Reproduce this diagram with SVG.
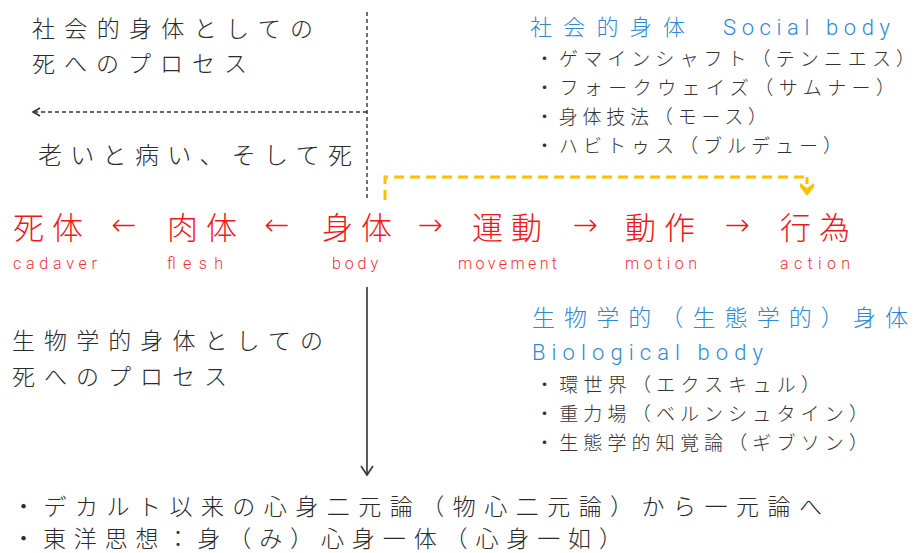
<svg xmlns="http://www.w3.org/2000/svg" width="922" height="553" viewBox="0 0 922 553">
<style>
.jp{font-family:"Noto Sans CJK JP","Noto Sans",sans-serif;fill:#2a2a2a;font-size:23px;font-weight:300}
.sm{font-family:"Noto Sans CJK JP","Noto Sans",sans-serif;fill:#333;font-size:19px;font-weight:300}
.blue{font-family:"Noto Sans CJK JP","Noto Sans",sans-serif;fill:#3088d0;font-size:23px;font-weight:300}
.en-blue{font-family:Roboto,"Liberation Sans",sans-serif;fill:#3088d0;font-size:22px;font-weight:300}
.red{font-family:"Noto Sans CJK JP","Noto Sans",sans-serif;fill:#f01818;font-size:31px;font-weight:300}
.arr{font-family:"DejaVu Sans","Noto Sans",sans-serif;fill:#f01818;font-size:30px;text-anchor:middle;font-weight:300}
.en-red{font-family:Roboto,"Liberation Sans",sans-serif;fill:#f03030;font-size:16px;font-weight:300}
.bot{font-family:"Noto Sans CJK JP","Noto Sans",sans-serif;fill:#2a2a2a;font-size:23px;font-weight:300}
.dash{fill:none;stroke:#333;stroke-width:1.4;stroke-dasharray:4 3}
.solid{fill:none;stroke:#333;stroke-width:1.6}
.yel{fill:none;stroke:#ffc000;stroke-width:3;stroke-dasharray:10 6}
</style>
<rect width="922" height="553" fill="#fff"/>
<g id="connectors">
  <path class="dash" d="M367 12 V199"/>
  <path class="dash" d="M367 112 H34"/>
  <path class="solid" d="M40 108 L33 112 L40 116"/>
  <path class="yel" d="M385 200 V177 H807"/>
  <path d="M807 177 V184" stroke="#ffc000" stroke-width="3" fill="none"/>
  <path d="M800 183 L807 188 L814 183 L814 187 L807 196 L800 187 Z" fill="#ffc000"/>
  <path class="solid" d="M367 287 V474"/>
  <path class="solid" d="M361 466 L367 475 L373 466"/>
</g>
<g id="social-death">
  <text class="jp" x="32" y="37" textLength="281" lengthAdjust="spacing">社会的身体としての</text>
  <text class="jp" x="32" y="72" textLength="215" lengthAdjust="spacing">死へのプロセス</text>
</g>
<g id="aging">
  <text class="jp" x="38" y="164" style="font-size:24px" textLength="314" lengthAdjust="spacing">老いと病い、そして死</text>
</g>
<g id="social-body">
  <text class="blue" x="530" y="35" style="font-size:22px" textLength="155" lengthAdjust="spacing">社会的身体</text>
  <text class="en-blue" x="723" y="35" textLength="167" lengthAdjust="spacing">Social body</text>
  <text class="sm" x="535" y="66" textLength="380" lengthAdjust="spacing">・ゲマインシャフト（テンニエス）</text>
  <text class="sm" x="535" y="95" textLength="360" lengthAdjust="spacing">・フォークウェイズ（サムナー）</text>
  <text class="sm" x="535" y="124" textLength="232" lengthAdjust="spacing">・身体技法（モース）</text>
  <text class="sm" x="535" y="153" textLength="307" lengthAdjust="spacing">・ハビトゥス（ブルデュー）</text>
</g>
<g id="chain">
  <text class="red" x="13" y="239" textLength="70" lengthAdjust="spacing">死体</text>
  <text class="arr" x="124" y="235">←</text>
  <text class="red" x="167" y="239" textLength="70" lengthAdjust="spacing">肉体</text>
  <text class="arr" x="277" y="235">←</text>
  <text class="red" x="322" y="239" textLength="70" lengthAdjust="spacing">身体</text>
  <text class="arr" x="430" y="235">→</text>
  <text class="red" x="472" y="239" textLength="70" lengthAdjust="spacing">運動</text>
  <text class="arr" x="585" y="235">→</text>
  <text class="red" x="625" y="239" textLength="70" lengthAdjust="spacing">動作</text>
  <text class="arr" x="737" y="235">→</text>
  <text class="red" x="780" y="239" textLength="70" lengthAdjust="spacing">行為</text>
  <text class="en-red" x="13" y="269" textLength="84" lengthAdjust="spacing">cadaver</text>
  <text class="en-red" x="167" y="269" textLength="56" lengthAdjust="spacing">flesh</text>
  <text class="en-red" x="332" y="269" textLength="46" lengthAdjust="spacing">body</text>
  <text class="en-red" x="458" y="269" textLength="99" lengthAdjust="spacing">movement</text>
  <text class="en-red" x="625" y="269" textLength="72" lengthAdjust="spacing">motion</text>
  <text class="en-red" x="780" y="269" textLength="70" lengthAdjust="spacing">action</text>
</g>
<g id="bio-death">
  <text class="jp" x="12" y="349" textLength="311" lengthAdjust="spacing">生物学的身体としての</text>
  <text class="jp" x="12" y="385" textLength="215" lengthAdjust="spacing">死へのプロセス</text>
</g>
<g id="bio-body">
  <text class="blue" x="532" y="326" textLength="376" lengthAdjust="spacing">生物学的（生態学的）身体</text>
  <text class="en-blue" x="532" y="360" textLength="231" lengthAdjust="spacing">Biological body</text>
  <text class="sm" x="535" y="392" textLength="285" lengthAdjust="spacing">・環世界（エクスキュル）</text>
  <text class="sm" x="535" y="421" textLength="333" lengthAdjust="spacing">・重力場（ベルンシュタイン）</text>
  <text class="sm" x="535" y="450" textLength="333" lengthAdjust="spacing">・生態学的知覚論（ギブソン）</text>
</g>
<g id="monism">
  <text class="bot" x="12" y="515" textLength="810" lengthAdjust="spacing">・デカルト以来の心身二元論（物心二元論）から一元論へ</text>
  <text class="bot" x="12" y="547" textLength="610" lengthAdjust="spacing">・東洋思想：身（み）心身一体（心身一如）</text>
</g>
</svg>
